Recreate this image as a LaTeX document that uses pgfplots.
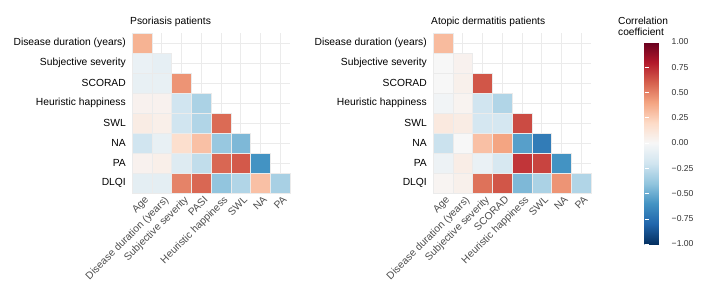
\documentclass[border=0pt]{standalone}
\usepackage{fontspec}
\setmainfont{Liberation Sans}
\usepackage{pgfplots}
\pgfplotsset{compat=1.18}
\definecolor{gridc}{RGB}{235,235,235}
\definecolor{xlab}{RGB}{77,77,77}
\definecolor{cbl}{RGB}{51,51,51}
\pgfplotsset{
  colormap={rdbu}{rgb255=(5,48,97) rgb255=(33,102,172) rgb255=(67,147,195) rgb255=(146,197,222) rgb255=(209,229,240) rgb255=(247,247,247) rgb255=(253,219,199) rgb255=(244,165,130) rgb255=(214,96,77) rgb255=(178,24,43) rgb255=(103,0,31)},
  heat/.style={
    scale only axis, width=158pt, height=160pt,
    xmin=0.5, xmax=8.5, ymin=0.5, ymax=8.5,
    axis line style={draw=none},
    major tick style={draw=none},
    xtick={1,...,8}, ytick={1,...,8},
    grid=major, major grid style={gridc, line width=0.5pt},
    point meta min=-1, point meta max=1,
    colormap name=rdbu,
    yticklabel style={font=\fontsize{10.3}{12}\selectfont, anchor=east, inner sep=0pt, xshift=-6pt, text=black},
    xticklabel style={font=\fontsize{10.3}{12}\selectfont, rotate=45, anchor=north east, inner sep=0pt, text=xlab, yshift=-3pt},
    yticklabels={DLQI,PA,NA,SWL,Heuristic happiness,SCORAD,Subjective severity,Disease duration (years)},
    clip=false,
  },
  tiles/.style={scatter, only marks, mark=square*, mark size=9.875pt, point meta=explicit,
    scatter/use mapped color={draw=white!92!black, fill=mapped color}, mark options={line width=0.2pt}},
}
\begin{document}
\begin{tikzpicture}
\useasboundingbox (0,0) rectangle (709pt,289pt);
\begin{axis}[heat, at={(132pt,96pt)}, anchor=south west,
  xticklabels={Age,Disease duration (years),Subjective severity,PASI,Heuristic happiness,SWL,NA,PA}]
\addplot[tiles] table[meta=v] {
x y v
1 8 0.35
1 7 -0.07
2 7 -0.09
1 6 -0.08
2 6 -0.08
3 6 0.45
1 5 0.04
2 5 0.04
3 5 -0.20
4 5 -0.32
1 4 0.08
2 4 0.06
3 4 -0.20
4 4 -0.30
5 4 0.57
1 3 -0.20
2 3 -0.08
3 3 0.17
4 3 0.30
5 3 -0.38
6 3 -0.45
1 2 0.04
2 2 0.06
3 2 -0.13
4 2 -0.25
5 2 0.58
6 2 0.62
7 2 -0.60
1 1 -0.10
2 1 -0.10
3 1 0.50
4 1 0.58
5 1 -0.40
6 1 -0.30
7 1 0.30
8 1 -0.33
};
\end{axis}
\begin{axis}[heat, at={(433pt,96pt)}, anchor=south west,
  xticklabels={Age,Disease duration (years),Subjective severity,SCORAD,Heuristic happiness,SWL,NA,PA},
  colorbar,
  colorbar style={at={(parent axis.north east)}, anchor=north west, xshift=45pt, yshift=-9pt,
    scale only axis, width=23pt, height=202pt,
    ytick={-1,-0.75,-0.5,-0.25,0,0.25,0.5,0.75,1},
    yticklabels={−1.00,−0.75,−0.50,−0.25,0.00,0.25,0.50,0.75,1.00},
    yticklabel style={font=\fontsize{8.6}{10}\selectfont, text=cbl, inner sep=0pt, xshift=4pt},
    axis line style={draw=none},
    major tick style={white, line width=0.5pt}, major tick length=4.5pt, tick align=inside, ytick pos=both}]
\addplot[tiles] table[meta=v] {
x y v
1 8 0.32
1 7 0.00
2 7 0.04
1 6 0.00
2 6 0.05
3 6 0.63
1 5 -0.03
2 5 0.03
3 5 -0.20
4 5 -0.30
1 4 0.10
2 4 0.08
3 4 -0.18
4 4 -0.18
5 4 0.66
1 3 -0.22
2 3 0.00
3 3 0.30
4 3 0.40
5 3 -0.55
6 3 -0.70
1 2 -0.05
2 2 0.07
3 2 -0.07
4 2 -0.17
5 2 0.72
6 2 0.68
7 2 -0.60
1 1 0.02
2 1 0.05
3 1 0.55
4 1 0.63
5 1 -0.45
6 1 -0.32
7 1 0.45
8 1 -0.30
};
\end{axis}
\node[anchor=base west, inner sep=0pt, font=\fontsize{10.3}{12}\selectfont] at (130pt,264pt) {Psoriasis patients};
\node[anchor=base west, inner sep=0pt, font=\fontsize{10.2}{11}\selectfont] at (431pt,264pt) {Atopic dermatitis patients};
\node[anchor=base west, inner sep=0pt, font=\fontsize{10.2}{11}\selectfont] at (618pt,264pt) {Correlation};
\node[anchor=base west, inner sep=0pt, font=\fontsize{10.2}{11}\selectfont] at (618pt,253pt) {coefficient};
\end{tikzpicture}
\end{document}
